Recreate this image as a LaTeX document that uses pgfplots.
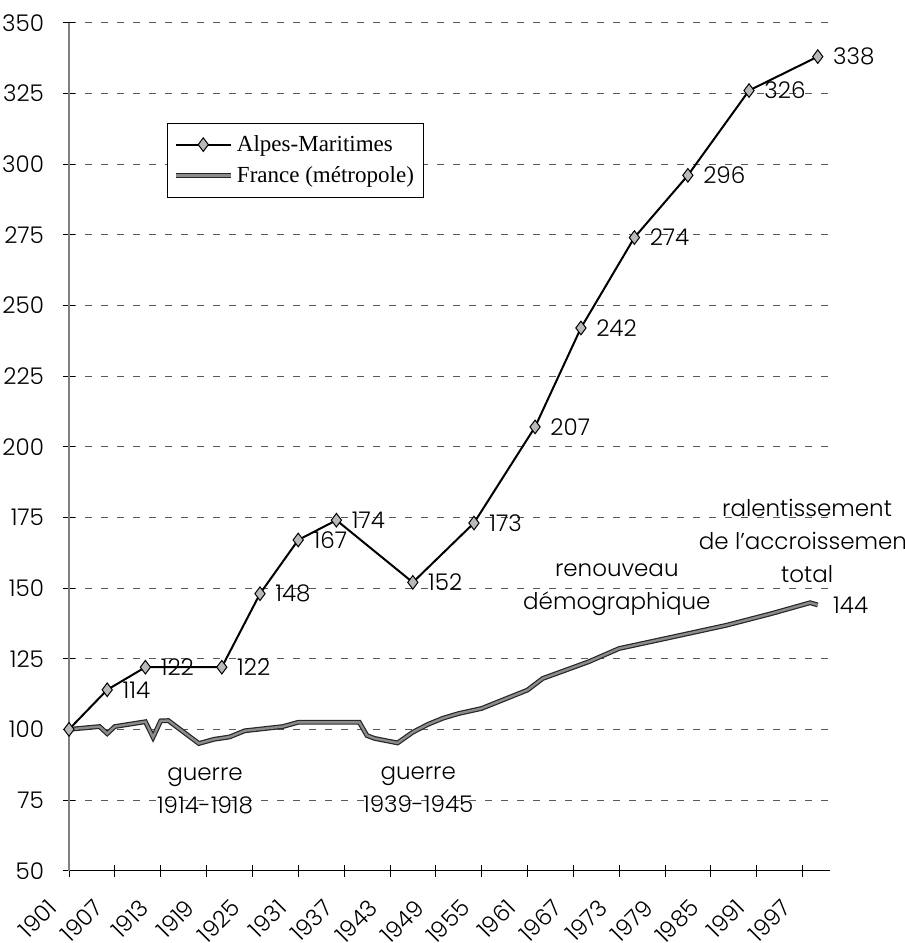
\documentclass[border=0pt]{standalone}
\usepackage{fontspec}
\setmainfont{Poppins}[UprightFont={* Light}]
\newfontfamily\legfont{Liberation Serif}
\usepackage{pgfplots}
\usepackage{pgfplotstable}
\pgfplotsset{compat=1.18}

\pgfplotstableread{
year val
1901 100
1906 114
1911 122
1921 122
1926 148
1931 167
1936 174
1946 152
1954 173
1962 207
1968 242
1975 274
1982 296
1990 326
1999 338
}\alpes

\pgfplotstableread{
year val
1901 100
1905 101
1906 98.5
1907 101
1911 102.7
1912 97.2
1913 103
1914 103.1
1918 95
1920 96.5
1922 97.3
1924 99.5
1929 101
1931 102.5
1939 102.5
1940 97.8
1941 96.8
1944 95.2
1946 99
1948 101.8
1950 104
1952 105.6
1955 107.4
1961 113.9
1963 118
1969 123.9
1973 128.6
1979 132.1
1987 136.8
1993 141
1998 144.8
1999 144
}\france

\pgfplotstableread{
year val
1906 114
1911 122
1921 122
1926 148
1931 167
1936 174
1946 152
1954 173
1962 207
1968 242
1975 274
1982 296
1990 326
1999 338
}\alpeslabels

\pgfplotstableread{
year val
1999 144
}\francelabel

\newcommand\gfont{\fontsize{11.5}{16.5}\selectfont}

\begin{document}
\begin{tikzpicture}
\useasboundingbox (-34.5pt,-36.15pt) rectangle (418pt,435.35pt);
\begin{axis}[
  at={(0,0)}, anchor=south west,
  scale only axis, width=380.5pt, height=424pt,
  xmin=1901, xmax=2000.6, ymin=50, ymax=350,
  axis lines*=left,
  clip=false,
  xtick={1901,1907,...,1997},
  minor x tick num=5,
  ytick={50,75,...,350},
  ymajorgrids,
  grid style={black!65, line width=0.5pt, dash pattern=on 3.5pt off 4.5pt},
  x axis line style={black, line width=0.6pt},
  y axis line style={black!50, line width=0.9pt},
  tick align=center,
  major tick length=6pt, minor tick length=6pt,
  tick style={black, line width=0.4pt},
  /pgf/number format/assume math mode=true,
  /pgf/number format/1000 sep={},
  ticklabel style={font=\gfont},
  xticklabel style={xshift=-8pt, yshift=-13.5pt, rotate=45, anchor=east, inner sep=0pt},
  yticklabel style={xshift=-6pt},
  legend style={font=\legfont\fontsize{11.5}{13}\selectfont,
    at={(0.129,0.882)}, anchor=north west, inner ysep=4pt,
    draw=black, line width=0.4pt, cells={anchor=west}, row sep=2pt},
  legend image code/.code={%
    \draw[mark repeat=2,mark phase=2,#1] plot coordinates {(0cm,0cm) (0.48cm,0cm) (0.96cm,0cm)};},
]
\addplot[black, line width=1pt, mark=diamond*, mark size=3.4pt,
  mark options={fill=gray!55, draw=black, line width=0.5pt, solid}]
  table[x=year, y=val] {\alpes};
\addlegendentry{Alpes-Maritimes}
\addplot[draw=black!85, line width=0.6pt, double=black!45, double distance=1.2pt]
  table[x=year, y=val] {\france};
\addlegendentry{France (métropole)}

\addplot[draw=none, mark=none, forget plot,
  nodes near coords={\pgfmathprintnumber[fixed,precision=0]{\pgfplotspointmeta}},
  point meta=y,
  every node near coord/.style={anchor=west, xshift=5.5pt, font=\gfont, inner sep=2pt}]
  table[x=year, y=val] {\alpeslabels};
\addplot[draw=none, mark=none, forget plot,
  nodes near coords={\pgfmathprintnumber[fixed,precision=0]{\pgfplotspointmeta}},
  point meta=y,
  every node near coord/.style={anchor=west, xshift=5.5pt, font=\gfont, inner sep=2pt}]
  table[x=year, y=val] {\francelabel};

\node[align=center, font=\gfont] at (axis cs:1918.8,78.2) {guerre\\1914-1918};
\node[align=center, font=\gfont] at (axis cs:1946.7,78.5) {guerre\\1939-1945};
\node[align=center, font=\gfont] at (axis cs:1972.7,149.5) {renouveau\\démographique};
\node[align=center, font=\gfont] at (axis cs:1997.6,166.5) {ralentissement\\de l'accroissement\\total};
\end{axis}
\end{tikzpicture}
\end{document}
